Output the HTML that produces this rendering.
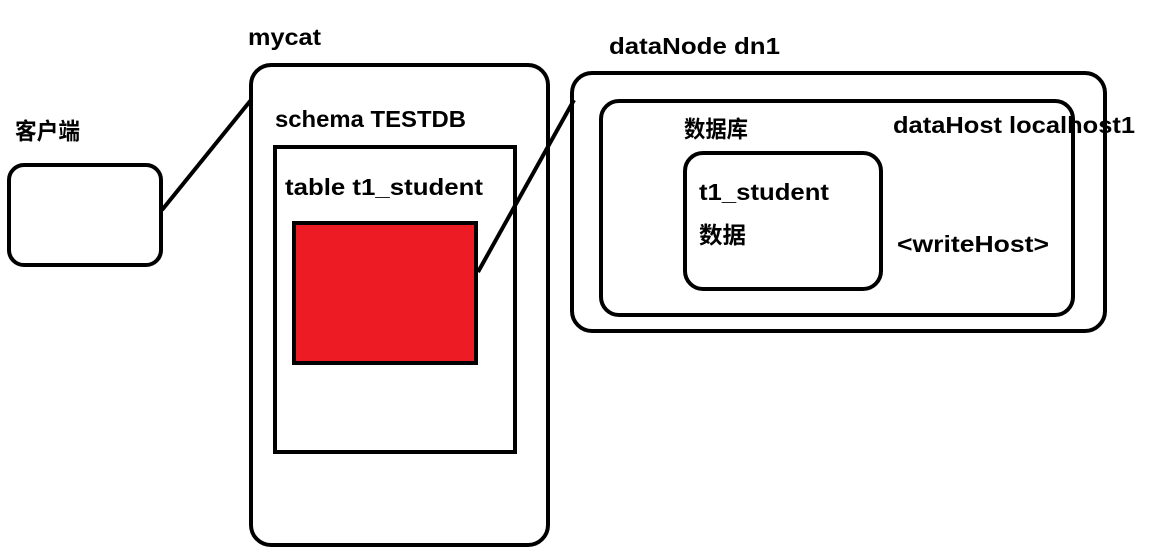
<!DOCTYPE html>
<html><head><meta charset="utf-8"><style>
html,body{margin:0;padding:0;background:#fff;width:1155px;height:552px;overflow:hidden}
text{font-family:"Liberation Sans","Noto Sans CJK SC",sans-serif;font-weight:bold;font-size:23px;fill:#000}
</style></head><body>
<svg width="1155" height="552" xmlns="http://www.w3.org/2000/svg">
<g fill="none" stroke="#000" stroke-width="4">
<rect x="9" y="165" width="152" height="100" rx="15"/>
<line x1="162" y1="210" x2="251" y2="100"/>
<rect x="251" y="65" width="297" height="480" rx="20"/>
<rect x="275" y="147" width="240" height="305"/>
<rect x="294" y="223" width="182" height="140" fill="#ed1c24"/>
<line x1="478" y1="272" x2="574" y2="100"/>
<rect x="572" y="73" width="533" height="258" rx="20"/>
<rect x="601" y="101" width="472" height="214" rx="18"/>
<rect x="685" y="153" width="196" height="136" rx="18"/>
</g>
<text x="248" y="45" textLength="73" lengthAdjust="spacingAndGlyphs">mycat</text>
<text x="609" y="54" textLength="171" lengthAdjust="spacingAndGlyphs">dataNode dn1</text>
<text x="15" y="139" textLength="65" lengthAdjust="spacingAndGlyphs">客户端</text>
<text x="275" y="127" textLength="191" lengthAdjust="spacingAndGlyphs">schema TESTDB</text>
<text x="285" y="195" textLength="198" lengthAdjust="spacingAndGlyphs">table t1_student</text>
<text x="684" y="137" textLength="64" lengthAdjust="spacingAndGlyphs">数据库</text>
<text x="893" y="133" textLength="242" lengthAdjust="spacingAndGlyphs">dataHost localhost1</text>
<text x="699" y="200" textLength="130" lengthAdjust="spacingAndGlyphs">t1_student</text>
<text x="699" y="243" textLength="47" lengthAdjust="spacingAndGlyphs">数据</text>
<text x="897" y="252" textLength="152" lengthAdjust="spacingAndGlyphs">&lt;writeHost&gt;</text>
</svg>
</body></html>
